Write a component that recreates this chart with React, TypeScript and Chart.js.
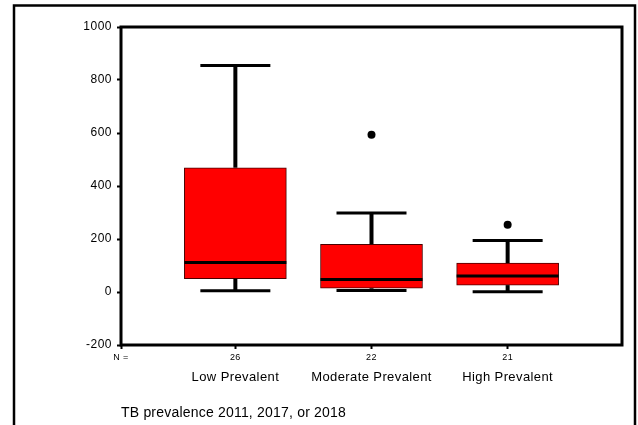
import React, { useEffect, useRef } from 'react';
import { Chart, registerables } from 'chart.js';

Chart.register(...registerables);

// ---- data ----
const categories = ['Low Prevalent', 'Moderate Prevalent', 'High Prevalent'];
const counts = [26, 22, 21];
const whiskerLow = [5, 6, 1];
const q1 = [50, 14, 26];
const median = [111, 47, 60];
const q3 = [469, 180, 109];
const whiskerHigh = [855, 298, 194];
const outliers: number[][] = [[], [593], [254]];
const yMin = -200;
const yMax = 1000;
const yStep = 200;
const xMin = 0.16;
const xMax = 3.84;
const xTitle = 'TB prevalence 2011, 2017, or 2018';
const nLabel = 'N =';

const FONT = 'Arial, "Liberation Sans", Helvetica, sans-serif';

// letter spacing per scale (labels / title) to mimic the wide original rendering
const labelSpacing: Record<string, string> = { y: '0.5px', x: '0.4px', x2: '0.4px' };
const titleSpacing: Record<string, string> = { x2: '0.2px' };

const boxPlugin = {
  id: 'boxWhiskers',
  beforeDraw(chart: any) {
    const { ctx, width, height } = chart;
    Object.keys(chart.scales).forEach((id) => {
      const s = chart.scales[id];
      if (!s || s.__patched) return;
      const origLabels = s.drawLabels;
      const origTitle = s.drawTitle;
      if (labelSpacing[id]) {
        s.drawLabels = function (ca: any) {
          const c = this.ctx;
          c.save();
          c.letterSpacing = labelSpacing[id];
          origLabels.call(this, ca);
          c.restore();
        };
      }
      if (titleSpacing[id]) {
        s.drawTitle = function () {
          const c = this.ctx;
          c.save();
          c.letterSpacing = titleSpacing[id];
          origTitle.call(this);
          c.restore();
        };
      }
      s.__patched = true;
    });
    ctx.save();
    ctx.fillStyle = '#fff';
    ctx.fillRect(0, 0, width, height);
    ctx.strokeStyle = '#000';
    ctx.lineWidth = 2.5;
    ctx.beginPath();
    ctx.moveTo(14, height);
    ctx.lineTo(14, 5.5);
    ctx.lineTo(635, 5.5);
    ctx.lineTo(635, height);
    ctx.stroke();
    ctx.restore();
  },
  afterDatasetsDraw(chart: any) {
    const { ctx } = chart;
    const xs = chart.scales.x;
    const ys = chart.scales.y;
    const line = (x1: number, y1: number, x2: number, y2: number) => {
      ctx.beginPath();
      ctx.moveTo(x1, y1);
      ctx.lineTo(x2, y2);
      ctx.stroke();
    };
    ctx.save();
    ctx.strokeStyle = '#000';
    ctx.lineCap = 'butt';
    categories.forEach((_, i) => {
      const cx = xs.getPixelForValue(i + 1);
      const yHi = ys.getPixelForValue(whiskerHigh[i]);
      const yLo = ys.getPixelForValue(whiskerLow[i]);
      const yQ1 = ys.getPixelForValue(q1[i]);
      const yQ3 = ys.getPixelForValue(q3[i]);
      const yMed = ys.getPixelForValue(median[i]);
      ctx.lineWidth = 4;
      line(cx, yQ3, cx, yHi);
      line(cx, yQ1, cx, yLo);
      ctx.lineWidth = 3;
      line(cx - 35, yHi, cx + 35, yHi);
      line(cx - 35, yLo, cx + 35, yLo);
      line(cx - 51, yMed, cx + 51, yMed);
    });
    ctx.restore();
  },
  afterDraw(chart: any) {
    const { ctx, chartArea } = chart;
    ctx.save();
    ctx.strokeStyle = '#000';
    ctx.lineWidth = 3;
    ctx.strokeRect(chartArea.left, chartArea.top, chartArea.right - chartArea.left, chartArea.bottom - chartArea.top);
    ctx.restore();
  },
};

export default function App() {
  const ref = useRef<HTMLCanvasElement>(null);
  useEffect(() => {
    document.body.style.margin = '0';
    if (!ref.current) return;
    Chart.defaults.font.family = FONT;
    Chart.defaults.color = '#000';
    const boxData = categories.map((_, i) => ({ x: i + 1, y: [q1[i], q3[i]] }));
    const outlierData: { x: number; y: number }[] = [];
    outliers.forEach((arr, i) => arr.forEach((v) => outlierData.push({ x: i + 1, y: v })));
    const chart = new Chart(ref.current, {
      type: 'bar',
      data: {
        datasets: [
          {
            type: 'bar',
            data: boxData as any,
            backgroundColor: '#ff0000',
            borderColor: '#4a0000',
            borderWidth: 1,
            borderSkipped: false,
            barThickness: 102,
            xAxisID: 'x',
            yAxisID: 'y',
          } as any,
          {
            type: 'scatter',
            data: outlierData,
            backgroundColor: '#000',
            borderColor: '#000',
            pointRadius: 4,
            pointBorderWidth: 0,
            xAxisID: 'x',
            yAxisID: 'y',
          } as any,
        ],
      },
      options: {
        responsive: false,
        animation: false,
        devicePixelRatio: 1,
        layout: { padding: { top: 27, right: 16, left: 0, bottom: 0 } },
        plugins: { legend: { display: false }, tooltip: { enabled: false } },
        scales: {
          y: {
            type: 'linear',
            min: yMin,
            max: yMax,
            ticks: {
              stepSize: yStep,
              font: { size: 12 },
              padding: 5,
              color: '#000',
              callback: (v: any) => String(v),
            },
            grid: { drawOnChartArea: false, drawTicks: true, tickLength: 4, tickWidth: 2, tickColor: '#000' },
            border: { display: false },
            afterFit: (s: any) => { s.width = 121; },
          },
          x: {
            type: 'linear',
            position: 'bottom',
            offset: false,
            weight: 0,
            min: xMin,
            max: xMax,
            afterBuildTicks: (s: any) => {
              s.ticks = [{ value: xMin }, ...categories.map((_, i) => ({ value: i + 1 }))];
            },
            ticks: {
              font: { size: 9 },
              padding: 3,
              color: '#000',
              autoSkip: false,
              maxRotation: 0,
              callback: (v: any) => {
                if (Math.abs(v - xMin) < 1e-6) return nLabel;
                const idx = Math.round(v) - 1;
                return counts[idx] !== undefined ? String(counts[idx]) : '';
              },
            },
            grid: { offset: false, drawOnChartArea: false, drawTicks: true, tickLength: 4, tickWidth: 2, tickColor: '#000' },
            border: { display: false },
            afterFit: (s: any) => { s.height = 20; },
          },
          x2: {
            type: 'linear',
            position: 'bottom',
            offset: false,
            weight: 1,
            min: xMin,
            max: xMax,
            afterBuildTicks: (s: any) => {
              s.ticks = categories.map((_, i) => ({ value: i + 1 }));
            },
            ticks: {
              font: { size: 13 },
              padding: 5,
              color: '#000',
              autoSkip: false,
              maxRotation: 0,
              callback: (v: any) => categories[Math.round(v) - 1] ?? '',
            },
            grid: { display: false, drawTicks: false, offset: false },
            border: { display: false },
            title: {
              display: true,
              text: xTitle,
              align: 'start',
              color: '#000',
              font: { size: 14 },
              padding: { top: 0, bottom: 3 },
            },
            afterFit: (s: any) => { s.height = 60; },
          },
        },
      } as any,
      plugins: [boxPlugin],
    });
    return () => chart.destroy();
  }, []);
  return (
    <div style={{ width: 638, height: 425 }}>
      <canvas ref={ref} width={638} height={425} />
    </div>
  );
}
